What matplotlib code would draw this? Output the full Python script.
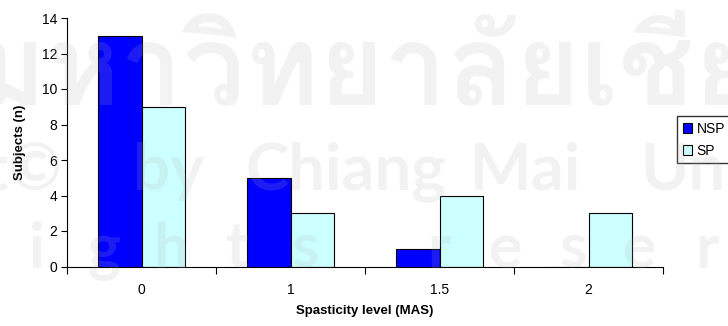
import numpy as np
import matplotlib
matplotlib.use("Agg")
import matplotlib.pyplot as plt
from matplotlib import font_manager
from matplotlib.ft2font import FT2Font

# counts of subjects per spasticity level
levels = ["0", "1", "1.5", "2"]
nsp = [13, 5, 1, 0]
sp = [9, 3, 4, 3]
series_names = ["NSP", "SP"]

plt.rcParams["font.family"] = ["Liberation Sans", "DejaVu Sans"]

W, H = 728, 326
fig = plt.figure(figsize=(W / 100, H / 100), dpi=100)
ax = fig.add_axes([67 / W, 1 - 266.5 / H, (663 - 67) / W, (266.5 - 18) / H])

x = np.arange(len(levels))
bw = 0.29
ax.bar(x - bw / 2, nsp, bw, color="#0000ff", edgecolor="black", linewidth=0.8,
       label=series_names[0], zorder=2)
ax.bar(x + bw / 2, sp, bw, color="#ccffff", edgecolor="black", linewidth=0.8,
       label=series_names[1], zorder=2)

ax.set_xlim(-0.5, len(levels) - 0.5)
ax.set_ylim(0, 14)
ax.set_yticks(range(0, 15, 2))
# tick marks between categories, labels in the middle
ax.set_xticks(np.arange(-0.5, len(levels), 1.0))
ax.set_xticklabels([])
ax.set_xticks(x, minor=True)
ax.set_xticklabels(levels, minor=True)
ax.tick_params(axis="x", which="major", length=5, width=0.8, direction="out")
ax.tick_params(axis="x", which="minor", length=0, pad=12, labelsize=10)
ax.tick_params(axis="y", length=4, width=0.8, direction="out", labelsize=10, pad=3)
for s in ["top", "right"]:
    ax.spines[s].set_visible(False)
for s in ["left", "bottom"]:
    ax.spines[s].set_linewidth(0.8)

fig.text(20 / W, 1 - 142 / H, "Subjects (n)", rotation=90, ha="center", va="center",
         fontsize=9.5, fontweight="bold")
fig.text(365 / W, 1 - 311 / H, "Spasticity level (MAS)", ha="center", va="center",
         fontsize=9.5, fontweight="bold")

fig.legend(loc="upper left", bbox_to_anchor=(677 / W, 1 - 116 / H), frameon=True,
           fancybox=False, edgecolor="black", fontsize=10, handlelength=0.7,
           handleheight=0.7, handletextpad=0.3, borderpad=0.4, labelspacing=0.6,
           borderaxespad=0)

# faint copyright watermark over the chart
wm = dict(color="#b8b4b4", alpha=0.16, zorder=10, transform=fig.transFigure)


def thai_font():
    for f in font_manager.fontManager.ttflist:
        try:
            if ord("ม") in FT2Font(f.fname).get_charmap():
                return f.name
        except Exception:
            pass
    return None


renderer = fig.canvas.get_renderer()


def text_width(s, **kw):
    t = fig.text(0, 0, s, **kw)
    w = t.get_window_extent(renderer).width
    t.remove()
    return w


tf = thai_font()
if tf:
    head, body = "ลิขสิทธิ์ม", "หาวิทยาลัยเชีย"
    kw = dict(family=tf, fontweight="bold")
    size = 100 * 713 / text_width(body, fontsize=100, **kw)
    x0 = 47 - text_width(head, fontsize=size, **kw)
    fig.text(x0 / W, 1 - 105 / H, head + body + "งใหม่", fontsize=size,
             ha="left", va="baseline", **kw, **wm)

lat = dict(family="Lato", fontweight="bold", va="baseline")
fig.text(62 / W, 1 - 190 / H, "Copyright©", fontsize=47, ha="right", **lat, **wm)
for word, px in [("by", 133), ("Chiang", 245), ("Mai", 470), ("University", 640)]:
    fig.text(px / W, 1 - 190 / H, word, fontsize=47, ha="left", **lat, **wm)
for i, ch in enumerate("rights reserved"):
    if ch != " ":
        fig.text((-30 + 67 * i) / W, 1 - 268 / H, ch, fontsize=45, ha="center",
                 **lat, **wm)

fig.savefig("out.png", dpi=100)
